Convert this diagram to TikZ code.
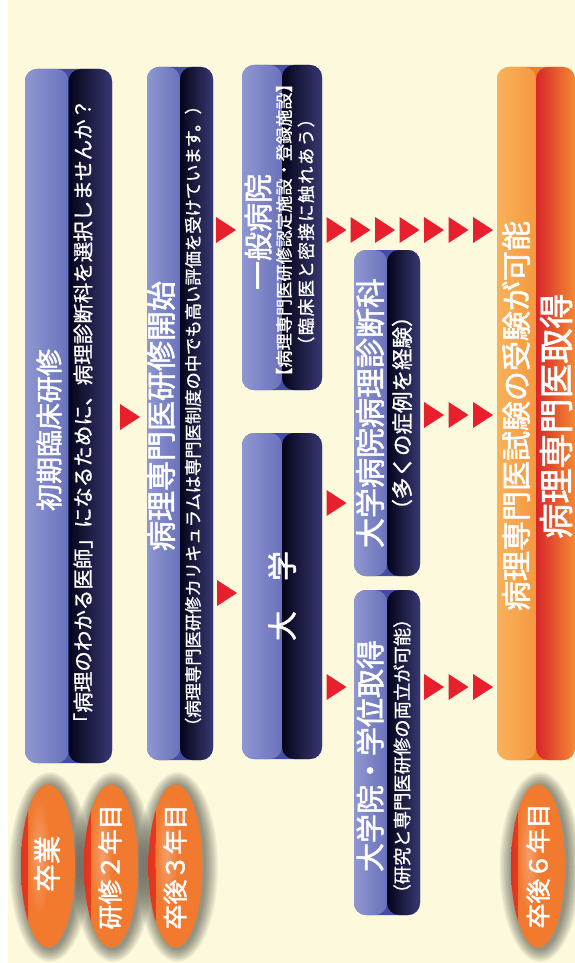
\documentclass[tikz,border=0pt]{standalone}
\usepackage{fontspec}
\newfontfamily\jpt{Noto Sans CJK JP}[FakeBold=1.8]
\newfontfamily\jps{Noto Sans CJK JP}[FakeBold=0.9]
\usetikzlibrary{shapes.geometric}
\definecolor{bgc}{HTML}{FCF9DC}
\definecolor{bLa}{HTML}{8F97D2}
\definecolor{bLb}{HTML}{444CA4}
\definecolor{bRa}{HTML}{04041A}
\definecolor{bRb}{HTML}{383872}
\definecolor{oLa}{HTML}{F9B25A}
\definecolor{oLb}{HTML}{F07E24}
\definecolor{oRa}{HTML}{D8262A}
\definecolor{oRb}{HTML}{F38A32}
\definecolor{arrc}{HTML}{E8202E}
\definecolor{elBody}{HTML}{F27A2E}
\definecolor{elRim}{HTML}{E2321E}
\definecolor{elHi}{HTML}{F9C4AE}
\tikzset{
  bbox/.style={rectangle, rounded corners=12pt, inner sep=0pt, fill=bLb,
    path picture={
      \shade[left color=bLa, right color=bLb] (path picture bounding box.south west) rectangle (path picture bounding box.north);
      \shade[left color=bRa, right color=bRb] (path picture bounding box.south) rectangle (path picture bounding box.north east);
    }},
  obox/.style={rectangle, rounded corners=12pt, inner sep=0pt, fill=oLb,
    path picture={
      \shade[left color=oLa, right color=oLb] (path picture bounding box.south west) rectangle (path picture bounding box.north);
      \shade[left color=oRa, right color=oRb] (path picture bounding box.south) rectangle (path picture bounding box.north east);
    }},
  ell/.style={ellipse, minimum width=54pt, minimum height=163pt, inner sep=0pt, fill=elBody,
    path picture={
      \shade[left color=elRim, right color=elBody] (path picture bounding box.south west) rectangle ([xshift=7pt]path picture bounding box.north west);
      \shade[inner color=elHi, outer color=elBody, opacity=0.5] ([xshift=-9pt,yshift=10pt]path picture bounding box.center) ellipse [x radius=11pt, y radius=60pt];
    }},
  txt/.style={text=white, rotate=90, inner sep=0pt, anchor=center},
  redtri/.pic={\fill[arrc] (-10,-13) -- (10,0) -- (-10,13) -- cycle;},
}
\newcommand{\ttl}[1]{\fontsize{#1}{#1}\selectfont\jpt}
\newcommand{\sub}[1]{\fontsize{#1}{#1}\selectfont\jps}
\begin{document}
\begin{tikzpicture}[x=1pt,y=-1pt]
\useasboundingbox (0,0) rectangle (575,963);
\fill[white] (0,0) rectangle (575,963);
\fill[bgc] (8,0) rectangle (575,963);

% boxes
\node[bbox, minimum width=87pt, minimum height=694pt] (b1) at (68.5,416) {};
\node[bbox, minimum width=66pt, minimum height=693pt] (b2) at (180,413.5) {};
\node[bbox, minimum width=80pt, minimum height=325pt] (b3) at (282,227.5) {};
\node[bbox, minimum width=80pt, minimum height=326pt] (b4) at (282,596) {};
\node[bbox, minimum width=66pt, minimum height=326pt] (b5) at (387,413) {};
\node[bbox, minimum width=66pt, minimum height=325pt] (b6) at (387,752.5) {};
\node[obox, minimum width=78pt, minimum height=693pt] (b7) at (536,413.5) {};

% texts
\node[txt, font=\ttl{27pt}] (t1a) at (49,430) {初期臨床研修};
\node[txt, font=\sub{20.5pt}] (t1b) at (83,416) {「病理のわかる医師」になるために、病理診断科を選択しませんか？};
\node[txt, font=\ttl{30pt}] (t2a) at (161,416) {病理専門医研修開始};
\node[txt, font=\sub{17.3pt}] (t2b) at (193,416) {（病理専門医研修カリキュラムは専門医制度の中でも高い評価を受けています。）};
\node[txt, font=\ttl{29pt}] (t3a) at (258,232) {一般病院};
\node[txt, font=\sub{17.2pt}] (t3b) at (284,230) {【病理専門医研修認定施設・登録施設】};
\node[txt, font=\sub{17.5pt}\addfontfeatures{LetterSpace=8}] (t3c) at (306,232) {（臨床医と密接に触れあう）};
\node[txt, font=\ttl{30pt}] (t4) at (282,596) {大　学};
\node[txt, font=\ttl{30pt}] (t5a) at (370,413) {大学病院病理診断科};
\node[txt, font=\sub{21.5pt}] (t5b) at (402,413) {（多くの症例を経験）};
\node[txt, font=\ttl{29pt}] (t6a) at (370,756) {大学院・学位取得};
\node[txt, font=\sub{18.3pt}] (t6b) at (402,756) {（研究と専門医研修の両立が可能）};
\node[txt, font=\ttl{30pt}] (t7a) at (516,416) {病理専門医試験の受験が可能};
\node[txt, font=\ttl{35pt}] (t7b) at (556,416) {病理専門医取得};

% ellipses with glow
\foreach \cx/\nm in {48/e1, 111/e2, 175.5/e3, 538/e4} {
  \foreach \i in {1,...,9} {
    \fill[black, opacity=0.055] (\cx+2,867) ellipse [x radius=27+\i*1.5, y radius=81.5+\i*1.5];
  }
}
\node[ell] (e1) at (48,866) {};
\node[ell] (e2) at (111,866) {};
\node[ell] (e3) at (175.5,866) {};
\node[ell] (e4) at (538,866) {};
\node[txt, font=\ttl{28pt}] (te1) at (47,864) {卒業};
\node[txt, font=\ttl{25pt}] (te2) at (110,867) {研修２年目};
\node[txt, font=\ttl{25pt}] (te3) at (175,867) {卒後３年目};
\node[txt, font=\ttl{25pt}] (te4) at (538,866) {卒後６年目};

% arrows
\pic at (130,417) {redtri};
\pic at (226,230) {redtri};
\foreach \x in {336.5,360.5,385,409.5,434,458.5,483} { \pic at (\x,230) {redtri}; }
\pic at (227,593) {redtri};
\pic at (336.5,503) {redtri};
\foreach \x in {434,458.5,483} { \pic at (\x,415) {redtri}; }
\pic at (336.5,687) {redtri};
\foreach \x in {434,458.5,483} { \pic at (\x,687) {redtri}; }
\end{tikzpicture}
\end{document}
